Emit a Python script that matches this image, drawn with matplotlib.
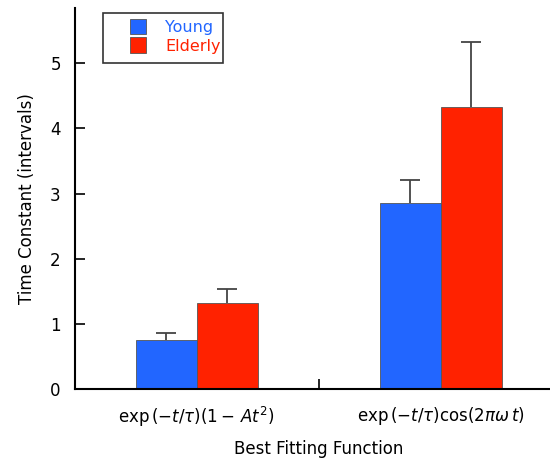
import numpy as np
import matplotlib.pyplot as plt
from matplotlib.patches import Patch, Rectangle

groups = [r"$\exp\left(-t/\tau\right)\left(1-\,At^2\right)$",
          r"$\exp\left(-t/\tau\right)\cos(2\pi\omega\,t)$"]
young = [0.76, 2.86]
young_err = [0.10, 0.35]
elderly = [1.33, 4.32]
elderly_err = [0.21, 1.01]

blue = '#2266ff'
red = '#ff2200'

fig = plt.figure(figsize=(5.5, 4.62), dpi=100)
ax = fig.add_axes([74.7/550, 72.7/462, (563-74.7)/550, (389.3-8.3)/462])

x = np.arange(len(groups))
w = 0.25
ax.bar(x - w/2, young, w, color=blue, edgecolor='#555555', linewidth=0.6)
ax.bar(x + w/2, elderly, w, color=red, edgecolor='#555555', linewidth=0.6)

for xs, vals, errs in [(x - w/2, young, young_err), (x + w/2, elderly, elderly_err)]:
    eb = ax.errorbar(xs, vals, yerr=[np.zeros(len(errs)), errs], fmt='none',
                     ecolor='#444444', elinewidth=1.3, capsize=7, capthick=1.3)
    eb[1][0].set_visible(False)

ax.set_xlim(-0.5, 1.5)
ax.set_ylim(0, 5.84)
ax.spines['top'].set_visible(False)
ax.spines['right'].set_visible(False)
ax.spines['left'].set_linewidth(1.5)
ax.spines['bottom'].set_linewidth(1.5)

ax.set_yticks([0, 1, 2, 3, 4, 5])
ax.tick_params(axis='y', direction='in', length=7, width=1.2, labelsize=12, pad=10)
ax.set_xticks([0.5])
ax.set_xticklabels([])
ax.tick_params(axis='x', direction='in', length=7, width=1.2)
ax.set_xticks(x, minor=True)
ax.set_xticklabels(groups, minor=True, fontsize=12)
ax.tick_params(axis='x', which='minor', length=0, pad=11)

ax.set_ylabel('Time Constant (intervals)', fontsize=12, labelpad=10)
ax.set_xlabel('Best Fitting Function', fontsize=12, labelpad=8)

# legend box drawn separately, entries inside
fig.patches.append(Rectangle((103/550, 1 - 63/462), 120/550, 50/462,
                             transform=fig.transFigure, facecolor='white',
                             edgecolor='#333333', linewidth=1.2, zorder=5))
handles = [Patch(facecolor=blue, edgecolor='#555555', linewidth=0.6),
           Patch(facecolor=red, edgecolor='#555555', linewidth=0.6)]
leg = fig.legend(handles, ['Young', 'Elderly'], loc='upper left',
                 bbox_to_anchor=(130/550, 1 - 19/462), fontsize=11.5,
                 frameon=False, handlelength=1.0, handleheight=1.1,
                 handletextpad=1.2, labelspacing=0.15, borderpad=0,
                 borderaxespad=0, labelcolor=[blue, red])
leg.set_zorder(6)

plt.savefig('out.png', dpi=100)
